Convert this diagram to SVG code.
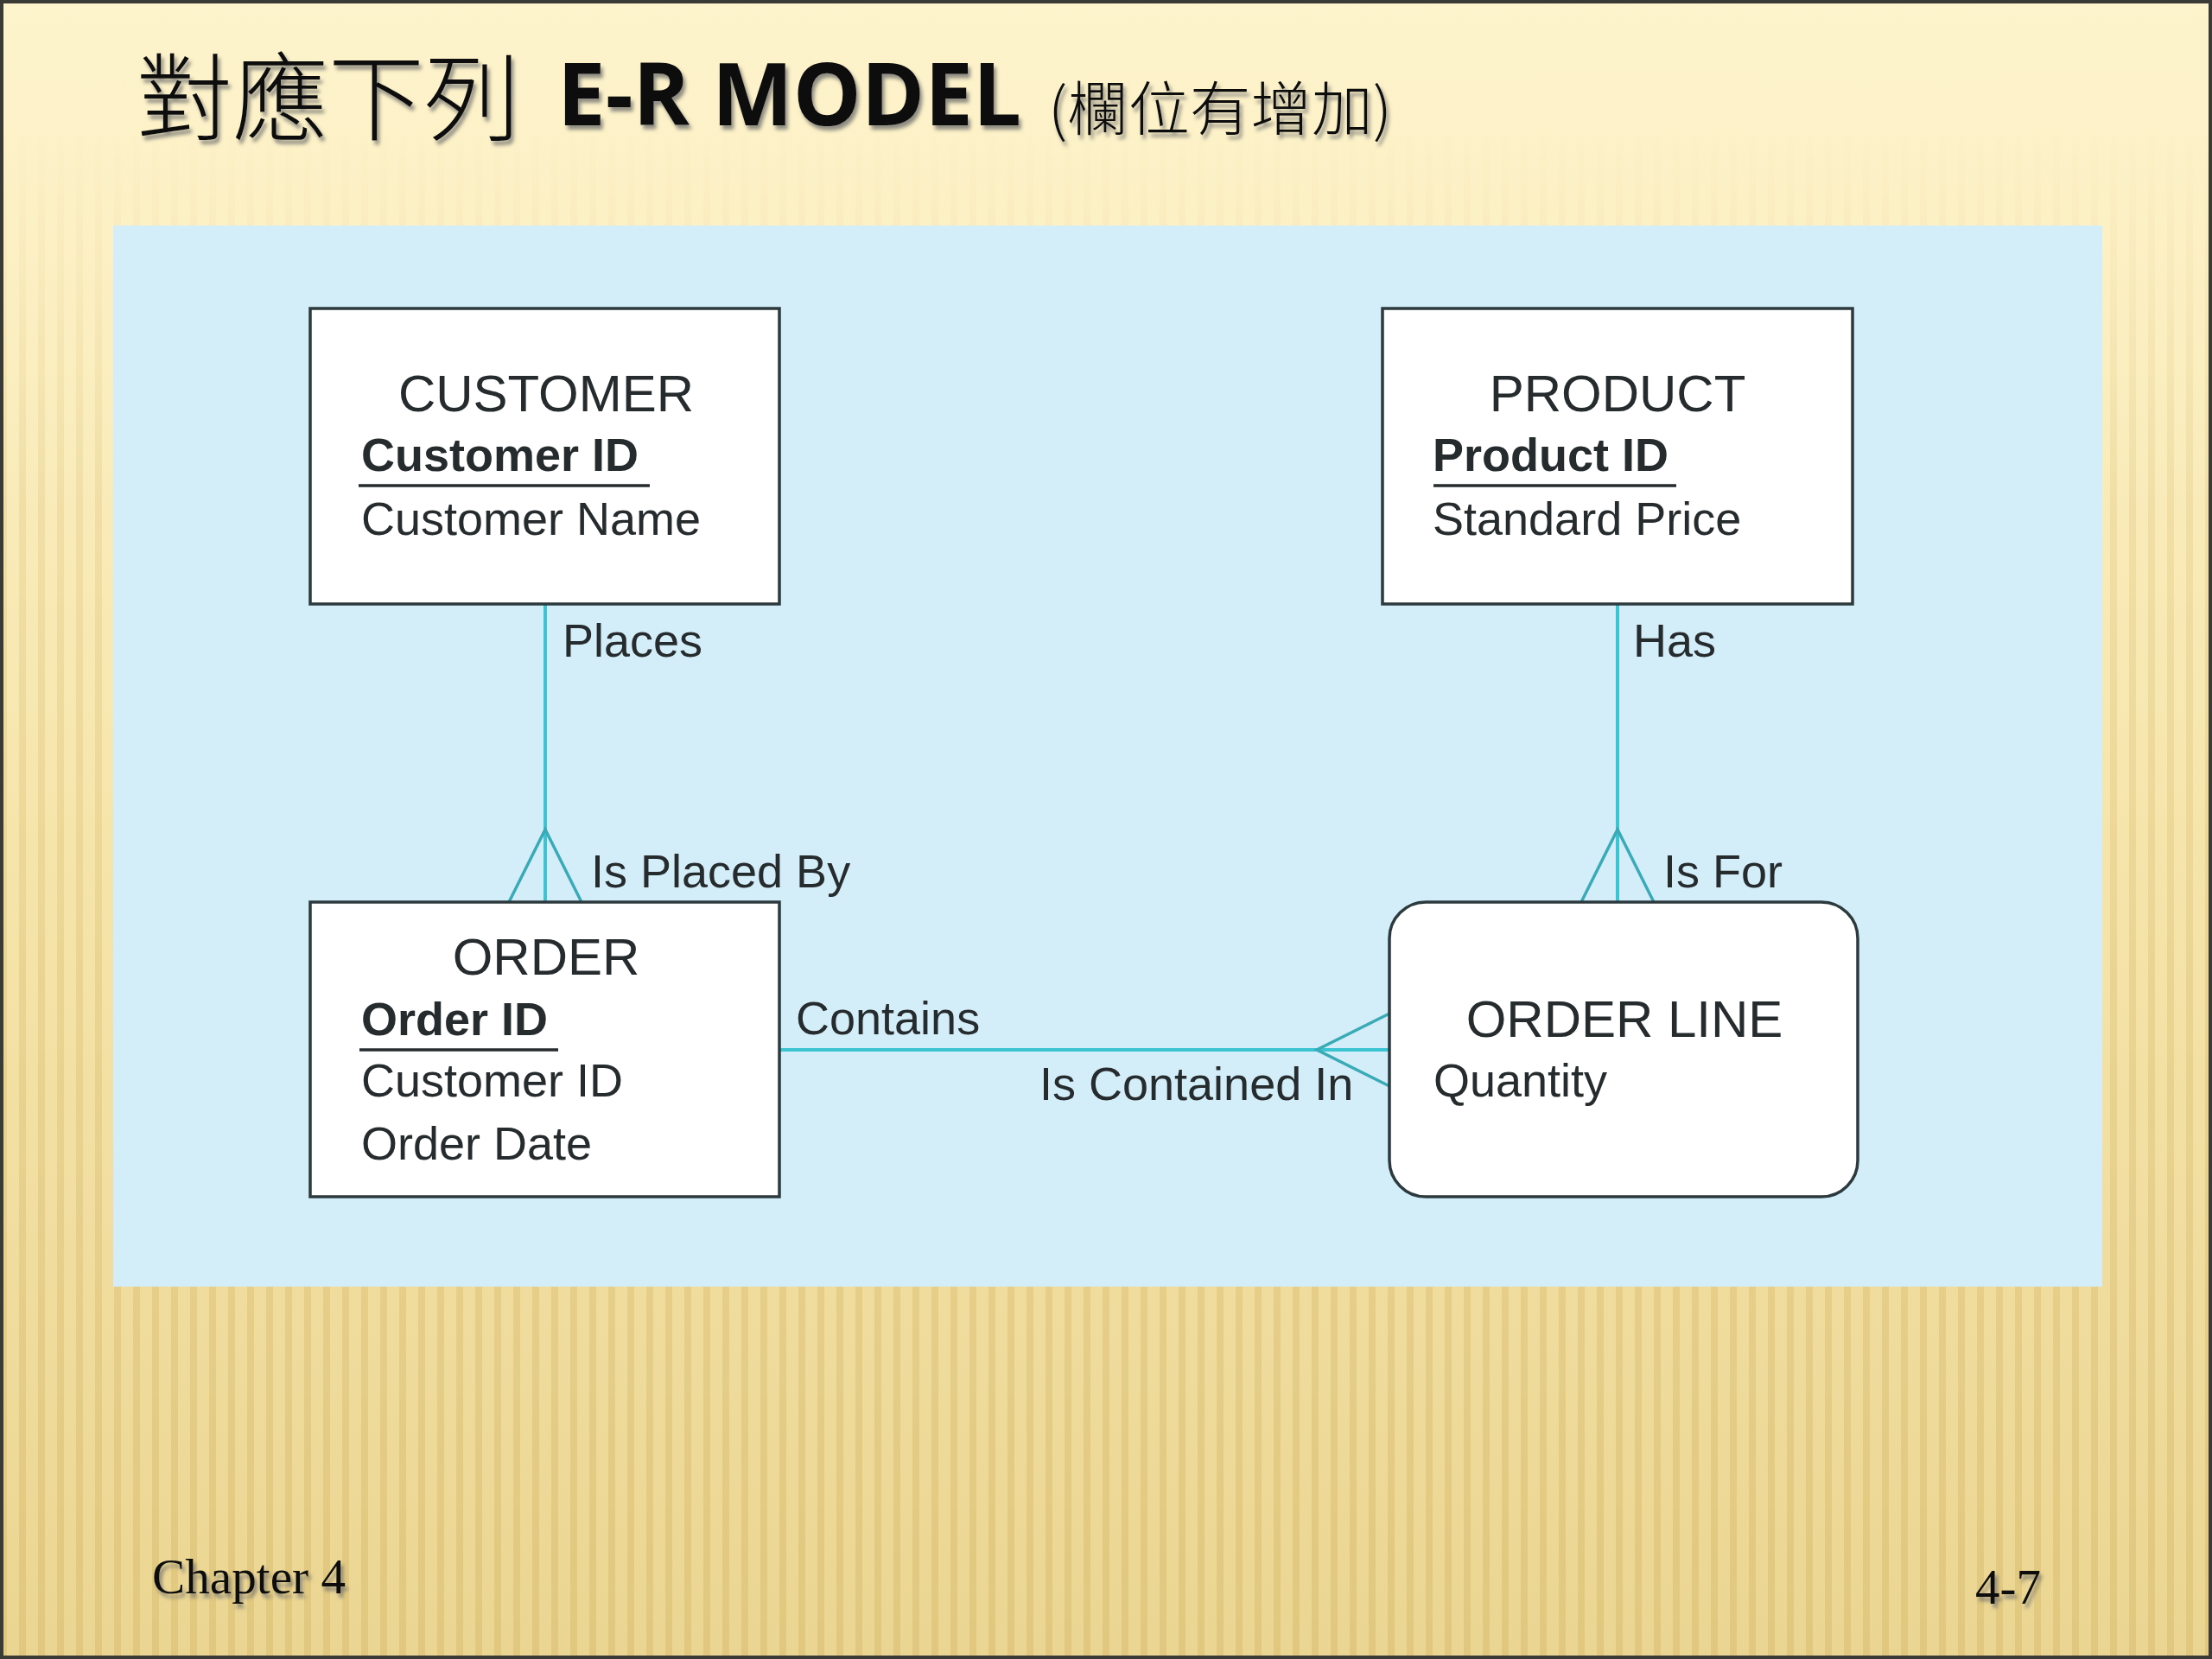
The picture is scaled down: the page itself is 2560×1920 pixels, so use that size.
<svg xmlns="http://www.w3.org/2000/svg" width="2560" height="1920" viewBox="0 0 2560 1920">
<defs>
<linearGradient id="bg" x1="0" y1="0" x2="0" y2="1">
<stop offset="0" stop-color="#fdf3cc"/>
<stop offset="0.15" stop-color="#fcf0c4"/>
<stop offset="0.5" stop-color="#f6e5ab"/>
<stop offset="1" stop-color="#ebd592"/>
</linearGradient>
<pattern id="stripes" width="22" height="40" patternUnits="userSpaceOnUse">
<rect x="0" y="0" width="8" height="40" fill="#c9a955"/>
</pattern>
<linearGradient id="fadeG" x1="0" y1="0" x2="0" y2="1">
<stop offset="0" stop-color="#fff" stop-opacity="0"/>
<stop offset="0.08" stop-color="#fff" stop-opacity="0"/>
<stop offset="0.3" stop-color="#fff" stop-opacity="0.18"/>
<stop offset="1" stop-color="#fff" stop-opacity="0.3"/>
</linearGradient>
<mask id="fade"><rect width="2560" height="1920" fill="url(#fadeG)"/></mask>
<filter id="shadow" x="-5%" y="-20%" width="110%" height="150%">
<feDropShadow dx="3" dy="5" stdDeviation="2" flood-color="#6b6b6b" flood-opacity="0.75"/>
</filter>
<marker id="crow" markerUnits="userSpaceOnUse" viewBox="-100 -50 110 100" markerWidth="110" markerHeight="100" refX="0" refY="0" orient="auto" overflow="visible">
<path d="M0,-42 L-84,0 L0,42" fill="none" stroke="#3aaab6" stroke-width="3.5"/>
</marker>
<style>
.ent{fill:#ffffff;stroke:#2c3a3e;stroke-width:3.5}
.ttl{font-family:"Liberation Sans",Arial,sans-serif;font-size:60px;fill:#262b2e;text-anchor:middle}
.att{font-family:"Liberation Sans",Arial,sans-serif;font-size:54px;fill:#262b2e}
.pk{font-weight:bold}
.ul{stroke:#262b2e;stroke-width:3.5}
.lbl{font-family:"Liberation Sans",Arial,sans-serif;font-size:54px;fill:#262b2e}
.rel{stroke:#3cc4d2;stroke-width:4;fill:none}
.foot{font-family:"Liberation Serif","Times New Roman",serif;font-size:57px;fill:#111}
</style>
</defs>

<rect x="0" y="0" width="2560" height="1920" fill="url(#bg)"/>
<rect x="0" y="0" width="2560" height="1920" fill="url(#stripes)" mask="url(#fade)"/>
<rect x="2" y="2" width="2556" height="1916" fill="none" stroke="#3a3a36" stroke-width="4"/>

<g id="title" filter="url(#shadow)">
<text x="158" y="154" font-family="'Noto Sans CJK TC','Noto Sans CJK SC',sans-serif" font-size="110" font-weight="300" fill="#111" textLength="444" lengthAdjust="spacingAndGlyphs">對應下列</text>
<text x="645" y="145" font-family="'Open Sans','Liberation Sans',sans-serif" font-size="101" font-weight="bold" fill="#111" textLength="537" lengthAdjust="spacingAndGlyphs">E-R MODEL</text>
<text x="1213" y="151" font-family="'Noto Sans CJK TC','Noto Sans CJK SC',sans-serif" font-size="68" font-weight="300" fill="#111" textLength="398" lengthAdjust="spacingAndGlyphs">(欄位有增加)</text>
</g>

<rect id="panel" x="131" y="261" width="2302" height="1228" fill="#d3eef9"/>

<g id="connectors">
<line class="rel" x1="631" y1="699" x2="631" y2="1044" marker-end="url(#crow)"/>
<line class="rel" x1="1872" y1="699" x2="1872" y2="1044" marker-end="url(#crow)"/>
<line class="rel" x1="902" y1="1215" x2="1608" y2="1215" marker-end="url(#crow)"/>
<text class="lbl" x="651" y="760">Places</text>
<text class="lbl" x="684" y="1027">Is Placed By</text>
<text class="lbl" x="1890" y="760">Has</text>
<text class="lbl" x="1925" y="1027">Is For</text>
<text class="lbl" x="921" y="1197">Contains</text>
<text class="lbl" x="1203" y="1273">Is Contained In</text>
</g>

<g id="customer">
<rect class="ent" x="359" y="357" width="543" height="342"/>
<text class="ttl" x="632" y="476">CUSTOMER</text>
<text class="att pk" x="418" y="545">Customer ID</text>
<line class="ul" x1="415" y1="562" x2="752" y2="562"/>
<text class="att" x="418" y="619">Customer Name</text>
</g>

<g id="product">
<rect class="ent" x="1600" y="357" width="544" height="342"/>
<text class="ttl" x="1872" y="476">PRODUCT</text>
<text class="att pk" x="1658" y="545">Product ID</text>
<line class="ul" x1="1659" y1="562" x2="1940" y2="562"/>
<text class="att" x="1658" y="619">Standard Price</text>
</g>

<g id="order">
<rect class="ent" x="359" y="1044" width="543" height="341"/>
<text class="ttl" x="632" y="1128">ORDER</text>
<text class="att pk" x="418" y="1198">Order ID</text>
<line class="ul" x1="416" y1="1215" x2="646" y2="1215"/>
<text class="att" x="418" y="1269">Customer ID</text>
<text class="att" x="418" y="1342">Order Date</text>
</g>

<g id="orderline">
<rect class="ent" x="1608" y="1044" width="542" height="341" rx="42" ry="42"/>
<text class="ttl" x="1880" y="1200">ORDER LINE</text>
<text class="att" x="1659" y="1269">Quantity</text>
</g>

<g id="footer" filter="url(#shadow)">
<text class="foot" x="176" y="1844" textLength="224" lengthAdjust="spacingAndGlyphs">Chapter 4</text>
<text class="foot" x="2286" y="1856" textLength="76" lengthAdjust="spacingAndGlyphs">4-7</text>
</g>
</svg>
